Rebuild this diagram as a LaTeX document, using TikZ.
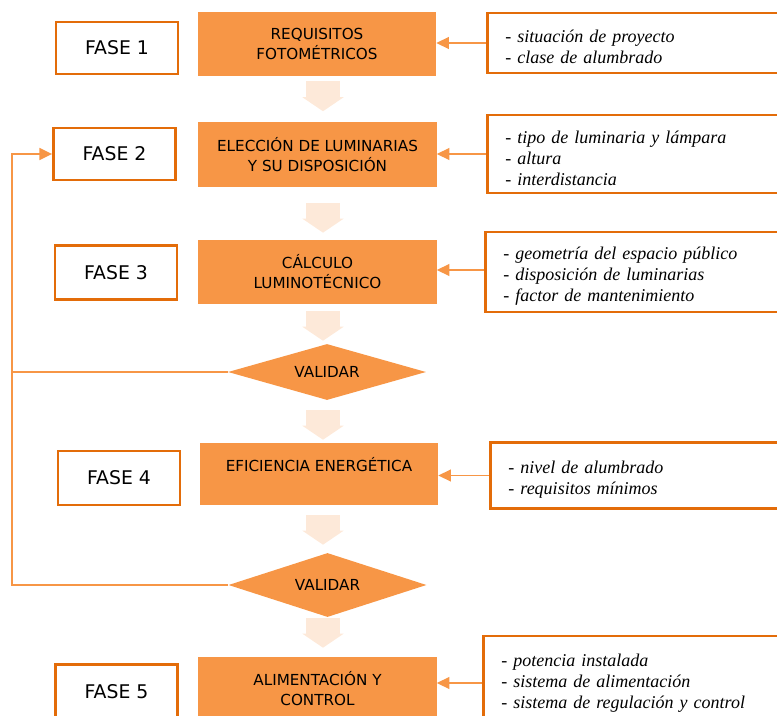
\documentclass[tikz,border=0pt]{standalone}
\usepackage{fontspec}
\setmainfont{DejaVu Sans}
\newfontfamily\notefont{Liberation Serif}
\usetikzlibrary{arrows.meta,positioning,calc,shapes.geometric}
\definecolor{phasefill}{HTML}{F79646}
\definecolor{phaseline}{HTML}{E36C09}
\definecolor{flowlight}{HTML}{FDE9D9}

\begin{document}
\begin{tikzpicture}[
  x=0.025cm, y=-0.025cm,
  fase/.style={draw=phaseline, line width=2pt, fill=white,
    minimum width=3.05cm, minimum height=1.3cm, inner sep=0pt,
    font=\fontsize{13.4}{15}\selectfont},
  stage/.style={fill=phasefill, align=center, inner sep=0pt,
    minimum width=5.95cm, minimum height=1.6cm,
    font=\fontsize{10.8}{14.2}\selectfont},
  check/.style={diamond, aspect=4, fill=phasefill, inner sep=0pt,
    minimum width=4.95cm, font=\fontsize{10.8}{12}\selectfont},
  notes/.style={draw=phaseline, line width=2pt, fill=white, anchor=west,
    align=left, text width=6.6cm, inner xsep=12pt, inner ysep=0pt,
    minimum width=7.5cm, execute at begin node=\rule{0pt}{15pt},
    font=\notefont\itshape\fontsize{12.8}{15}\selectfont},
  flow/.style={draw=flowlight, line width=24.5pt,
    -{Triangle[width=29pt,length=10pt,fill=flowlight]}},
  link/.style={draw=phasefill, line width=1pt},
  arrow/.style={link, -{Triangle[length=9pt,width=8.5pt]}}
]
\useasboundingbox (0,0) rectangle (777,716);
% main column
\node[stage] (req) at (317,44) {REQUISITOS\\FOTOMÉTRICOS};
\node[stage] (elec) at (317.5,154.5) {ELECCIÓN DE LUMINARIAS\\Y SU DISPOSICIÓN};
\node[stage] (calc) at (317.5,272) {CÁLCULO\\LUMINOTÉCNICO};
\node[check, minimum height=1.4cm] (val1) at (327,372) {VALIDAR};
\node[stage, minimum height=1.55cm] (efic) at (319,474) {EFICIENCIA ENERGÉTICA\\~};
\node[check, minimum height=1.6cm] (val2) at (327.5,585) {VALIDAR};
\node[stage] (alim) at (317.5,689) {ALIMENTACIÓN Y\\CONTROL};
% phases
\node[fase] (f1) at (117,48) {FASE 1};
\node[fase] (f2) at (114.5,154) {FASE 2};
\node[fase, minimum height=1.33cm] (f3) at (116,272.5) {FASE 3};
\node[fase, minimum height=1.35cm] (f4) at (119,478) {FASE 4};
\node[fase, minimum height=1.38cm] (f5) at (116.5,692) {FASE 5};
% inputs
\node[notes, minimum height=1.5cm] (n1) at (486,43)
  {- situación de proyecto\\- clase de alumbrado};
\node[notes, minimum height=1.95cm] (n2) at (486,154)
  {- tipo de luminaria y lámpara\\- altura\\- interdistancia};
\node[notes, minimum height=2cm] (n3) at (484,272)
  {- geometría del espacio público\\- disposición de luminarias\\- factor de mantenimiento};
\node[notes, minimum height=1.63cm] (n4) at (489,475.5)
  {- nivel de alumbrado\\- requisitos mínimos};
\node[notes, minimum height=2.15cm] (n5) at (482,679)
  {- potencia instalada\\- sistema de alimentación\\- sistema de regulación y control};
\coordinate (back) at (12,154);
\coordinate (axis) at (323,0);
% flow arrows
\draw[flow, shorten <=3.5pt, shorten >=7.8pt] (req.south -| axis) -- (elec.north -| axis);
\draw[flow, shorten <=11.4pt, shorten >=5pt] (elec.south -| axis) -- (calc.north -| axis);
\draw[flow, shorten <=5pt, shorten >=2.1pt] (calc.south -| axis) -- (val1.north -| axis);
\draw[flow, shorten <=7.1pt, shorten >=2.1pt] (val1.south -| axis) -- (efic.north -| axis);
\draw[flow, shorten <=7.1pt, shorten >=5.7pt] (efic.south -| axis) -- (val2.north -| axis);
\draw[flow, shorten <=0.7pt, shorten >=6.4pt] (val2.south -| axis) -- (alim.north -| axis);
% input arrows
\draw[arrow] (n1.west) -- (n1.west -| req.east);
\draw[arrow] (n2.west) -- (n2.west -| elec.east);
\draw[arrow] ($(n3.west)+(0,-2)$) -- ($(n3.west -| calc.east)+(0,-2)$);
\draw[arrow] (n4.west) -- (n4.west -| efic.east);
\draw[arrow] ($(n5.west)+(0,4)$) -- ($(n5.west -| alim.east)+(0,4)$);
% feedback
\draw[link] (val1.west) -- (val1.west -| back);
\draw[arrow] (val2.west) -- (val2.west -| back) |- (f2.west);
\end{tikzpicture}
\end{document}
